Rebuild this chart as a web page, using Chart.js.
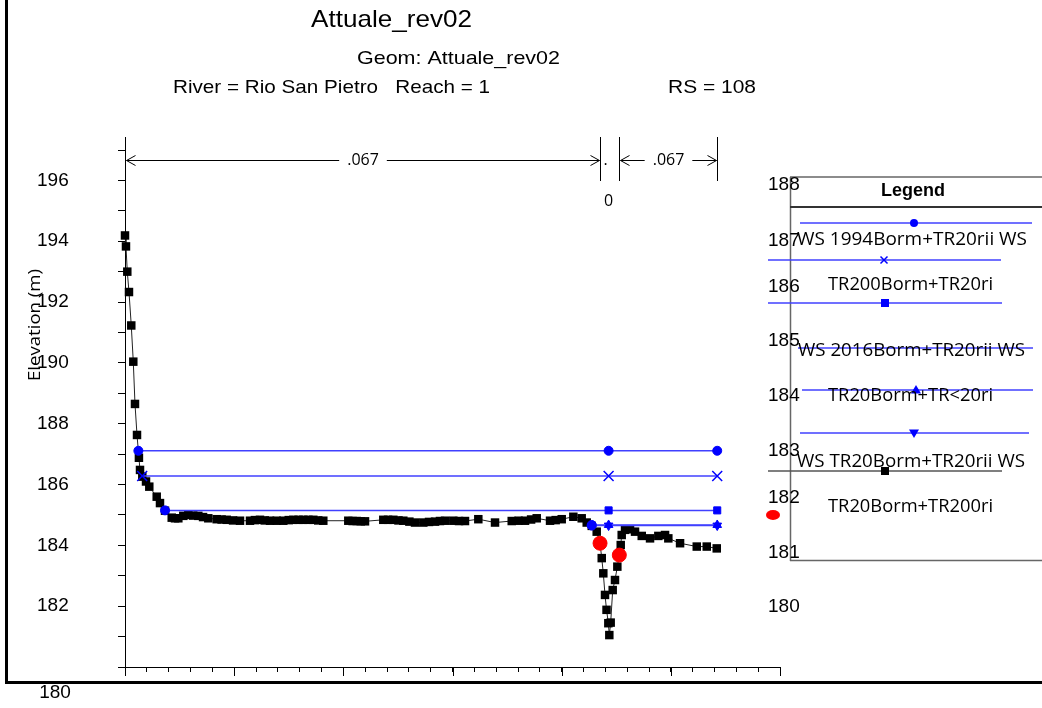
<!DOCTYPE html>
<html>
<head>
<meta charset="utf-8">
<script src="https://cdn.jsdelivr.net/npm/chart.js@4.4.1/dist/chart.umd.min.js"></script>
<style>
  html, body { margin: 0; padding: 0; background: #fff; }
</style>
</head>
<body>
<canvas id="xsChart" width="1042" height="708"></canvas>
<script>
// ground profile, station (m) / elevation (m)
const groundStation = [0.00, 0.18, 0.42, 0.73, 1.15, 1.52, 1.83, 2.20, 2.55, 2.75, 3.17, 3.85, 4.45, 5.81, 6.41, 7.33, 8.56, 9.16, 9.77, 10.68,
  11.60, 12.50, 13.43, 14.30, 15.26, 16.80, 17.70, 18.63, 19.80, 21.07, 22.90, 23.80, 24.73, 25.60, 26.57, 27.79, 29.00, 30.00, 30.84, 31.80,
  32.67, 33.60, 34.50, 35.40, 36.33, 40.91, 41.70, 42.45, 43.20, 43.97, 47.32, 48.20, 49.16, 50.10, 50.99, 52.10, 53.13, 54.65, 55.70, 56.80,
  57.70, 58.63, 60.15, 61.20, 62.29, 64.73, 67.79, 70.85, 72.10, 73.29, 74.40, 75.43, 77.87, 78.90, 80.01, 82.14, 83.67, 84.59, 85.51, 86.42,
  87.03, 87.34, 87.63, 87.94, 88.22, 88.55, 88.73, 88.98, 89.35, 89.77, 90.20, 90.56, 90.82, 91.00, 91.61, 92.52, 93.44, 94.67, 96.19, 97.71,
  98.94, 99.54, 101.69, 104.75, 106.58, 108.41];
const groundElev = [194.19, 193.83, 193.00, 192.33, 191.23, 190.04, 188.65, 187.63, 186.88, 186.48, 186.26, 186.10, 185.93, 185.60, 185.39, 185.14, 184.91, 184.89, 184.89, 184.97,
  185.00, 184.98, 184.97, 184.93, 184.89, 184.86, 184.85, 184.84, 184.82, 184.81, 184.81, 184.83, 184.84, 184.82, 184.81, 184.81, 184.81, 184.83, 184.84, 184.84,
  184.84, 184.84, 184.84, 184.82, 184.81, 184.81, 184.80, 184.80, 184.79, 184.79, 184.84, 184.84, 184.84, 184.82, 184.81, 184.78, 184.75, 184.75, 184.77, 184.78,
  184.80, 184.81, 184.81, 184.80, 184.80, 184.86, 184.75, 184.80, 184.81, 184.81, 184.85, 184.89, 184.81, 184.83, 184.86, 184.94, 184.89, 184.75, 184.64, 184.45,
  184.07, 183.58, 183.08, 182.37, 181.88, 181.44, 181.05, 181.46, 182.53, 182.86, 183.30, 183.68, 184.01, 184.34, 184.51, 184.53, 184.45, 184.31, 184.23, 184.31,
  184.34, 184.23, 184.07, 183.96, 183.96, 183.90];

// water surfaces
const wsNames = ['WS 1994Borm+TR20rii', 'WS TR200Borm+TR20ri', 'WS 2016Borm+TR20rii', 'WS TR20Borm+TR<20ri', 'WS TR20Borm+TR20rii'];
const wsElev = [187.11, 186.28, 185.15, 184.67, 184.65];
const wsStart = [2.45, 3.15, 7.33, 85.51, 85.51];
const wsMarks = [88.60, 108.50];

// bank stations
const bankStation = [87.03, 90.56];
const bankElev = [184.07, 183.68];

// manning's n
const nBreaks = [0, 87.03, 90.56, 108.41];
const nLabels = ['.067', '.', '.067'];

const legendLines = ['WS 1994Borm+TR20rii WS', 'TR200Borm+TR20ri', 'WS 2016Borm+TR20rii WS', 'TR20Borm+TR<20ri', 'WS TR20Borm+TR20rii WS', 'TR20Borm+TR200ri'];
const sideLabels = ['188', '187', '186', '185', '184', '183', '182', '181', '180'];

const BLUE = '#0000ff';
const WSLINE = '#4040ff';

function txt(ctx, s, x, y, o) {
  ctx.save();
  ctx.font = (o.weight || '') + ' ' + o.size + 'px ' + o.family;
  ctx.textBaseline = 'middle';
  ctx.fillStyle = o.color || '#000';
  let sx = 1;
  if (o.width) sx = o.width / ctx.measureText(s).width;
  ctx.translate(x, y);
  if (o.rot) ctx.rotate(o.rot);
  ctx.scale(sx, 1);
  ctx.textAlign = o.align || 'left';
  ctx.fillText(s, 0, 0);
  ctx.restore();
}

function seg(ctx, x1, y1, x2, y2) {
  ctx.beginPath();
  ctx.moveTo(x1, y1);
  ctx.lineTo(x2, y2);
  ctx.stroke();
}

function marker(ctx, style, x, y, r, color) {
  ctx.save();
  ctx.fillStyle = color;
  ctx.strokeStyle = color;
  ctx.lineWidth = 1.5;
  ctx.beginPath();
  if (style === 'circle') {
    ctx.arc(x, y, r, 0, Math.PI * 2);
    ctx.fill();
  } else if (style === 'rect') {
    ctx.fillRect(x - r, y - r, 2 * r, 2 * r);
  } else if (style === 'cross') {
    ctx.moveTo(x - r, y - r); ctx.lineTo(x + r, y + r);
    ctx.moveTo(x + r, y - r); ctx.lineTo(x - r, y + r);
    ctx.stroke();
  } else if (style === 'triUp') {
    ctx.moveTo(x, y - r); ctx.lineTo(x + r, y + r * 0.7); ctx.lineTo(x - r, y + r * 0.7);
    ctx.closePath(); ctx.fill();
  } else if (style === 'triDown') {
    ctx.moveTo(x, y + r); ctx.lineTo(x + r, y - r * 0.7); ctx.lineTo(x - r, y - r * 0.7);
    ctx.closePath(); ctx.fill();
  }
  ctx.restore();
}

// text, frame, n-values, legend etc
const decor = {
  id: 'decor',
  afterDraw(chart) {
    const ctx = chart.ctx;
    const xs = chart.scales.x;
    const a = chart.chartArea;
    ctx.save();
    ctx.strokeStyle = '#000';
    ctx.lineWidth = 1;

    // long ticks on x axis
    for (let v = 0; v <= 120; v += 20) {
      const px = Math.round(xs.getPixelForValue(v)) + 0.5;
      seg(ctx, px, a.bottom, px, a.bottom + 9);
    }
    // axis stub above plot and left of x axis
    seg(ctx, a.left + 0.5, a.top, a.left + 0.5, 137);
    seg(ctx, a.left - 7, a.bottom + 0.5, a.left, a.bottom + 0.5);

    // outer frame
    ctx.lineWidth = 3;
    seg(ctx, 6.5, 0, 6.5, 684);
    seg(ctx, 5, 682.5, 1042, 682.5);

    // titles
    txt(ctx, 'Attuale_rev02', 311, 20, { size: 24, family: '"Liberation Sans"', width: 161 });
    txt(ctx, 'Geom: Attuale_rev02', 357, 59, { size: 19, family: '"Liberation Sans"', width: 203 });
    txt(ctx, 'River = Rio San Pietro   Reach = 1', 173, 88, { size: 19, family: '"Liberation Sans"', width: 317 });
    txt(ctx, 'RS = 108', 668, 88, { size: 19, family: '"Liberation Sans"', width: 88 });

    txt(ctx, 'Elevation (m)', 35, 325, { size: 16, family: '"Open Sans"', align: 'center', rot: -Math.PI / 2, width: 112 });
    txt(ctx, '180', 55, 693, { size: 19, family: '"Liberation Sans"', align: 'center' });

    // manning's n bars
    ctx.lineWidth = 1;
    const bx = nBreaks.map(v => Math.round(xs.getPixelForValue(v)) + 0.5);
    for (let i = 1; i < bx.length; i++) seg(ctx, bx[i], 137, bx[i], 181);
    const ay = 160.5;
    [0, 2].forEach(i => {
      const l = bx[i] + 1, r = bx[i + 1] - 1, mid = (l + r) / 2;
      ctx.font = '16px "Open Sans"';
      const hw = ctx.measureText(nLabels[i]).width / 2 + 8;
      seg(ctx, l, ay, mid - hw, ay);
      seg(ctx, mid + hw, ay, r, ay);
      seg(ctx, l, ay, l + 9, ay - 5); seg(ctx, l, ay, l + 9, ay + 5);
      seg(ctx, r, ay, r - 9, ay - 5); seg(ctx, r, ay, r - 9, ay + 5);
      txt(ctx, nLabels[i], mid, ay, { size: 16, family: '"Open Sans"', align: 'center' });
    });
    txt(ctx, nLabels[1], bx[1] + 5, ay, { size: 16, family: '"Open Sans"', align: 'center' });
    txt(ctx, '0', bx[1] + 8, 201, { size: 16, family: '"Open Sans"', align: 'center' });

    // legend box
    ctx.strokeStyle = '#666';
    ctx.lineWidth = 1.5;
    seg(ctx, 790, 177, 1042, 177);
    seg(ctx, 790.5, 177, 790.5, 561);
    seg(ctx, 790, 560.5, 1042, 560.5);
    ctx.strokeStyle = '#333';
    ctx.lineWidth = 2;
    seg(ctx, 790, 207, 1042, 207);
    txt(ctx, 'Legend', 913, 191, { size: 18, family: '"Liberation Sans"', weight: 'bold', align: 'center' });

    // loose axis numbers inside the legend
    const sideY = [185, 241, 287, 341, 396, 451, 498, 553, 607];
    sideLabels.forEach((s, i) => txt(ctx, s, 768, sideY[i], { size: 19, family: '"Liberation Sans"' }));

    const rows = [
      { y: 223, x1: 800, x2: 1032, mx: 914, st: 'circle', r: 4 },
      { y: 260, x1: 768, x2: 1001, mx: 884, st: 'cross', r: 3.5 },
      { y: 303, x1: 768, x2: 1002, mx: 885, st: 'rect', r: 4 },
      { y: 348, x1: 798, x2: 1033, mx: null },
      { y: 390, x1: 802, x2: 1033, mx: 916, st: 'triUp', r: 5 },
      { y: 433, x1: 800, x2: 1029, mx: 914, st: 'triDown', r: 5 },
      { y: 471, x1: 768, x2: 1002, mx: 885, st: 'rect', r: 4, line: '#555', col: '#000' }
    ];
    rows.forEach(r => {
      ctx.strokeStyle = r.line || WSLINE;
      ctx.lineWidth = 1.5;
      seg(ctx, r.x1, r.y, r.x2, r.y);
      if (r.mx) marker(ctx, r.st, r.mx, r.y, r.r, r.col || BLUE);
    });

    const textPos = [[797, 240, 230], [828, 285, 165], [798, 351, 227], [828, 396, 165], [797, 462, 228], [828, 507, 165]];
    legendLines.forEach((s, i) => {
      const p = textPos[i];
      txt(ctx, s, p[0], p[1], { size: 18, family: '"Open Sans"', width: p[2] });
    });

    // bank station symbol, cut by the box edge
    ctx.fillStyle = '#ff0000';
    ctx.beginPath();
    ctx.ellipse(773, 515, 7, 5, 0, 0, Math.PI * 2);
    ctx.fill();

    ctx.restore();
  }
};

const wsStyles = [
  { first: 'circle', rest: 'circle', rot: 0, r: 4.5, bw: 1 },
  { first: 'crossRot', rest: 'crossRot', rot: 0, r: 7, bw: 1.5 },
  { first: 'circle', rest: 'rect', rot: 0, r: 5, bw: 1 },
  { first: 'circle', rest: 'triangle', rot: 0, r: 5, bw: 1 },
  { first: 'circle', rest: 'triangle', rot: 180, r: 5, bw: 1 }
];

const wsDatasets = wsNames.map((name, i) => ({
  label: name,
  data: [{ x: wsStart[i], y: wsElev[i] }].concat(wsMarks.map(x => ({ x: x, y: wsElev[i] }))),
  showLine: true,
  borderColor: WSLINE,
  borderWidth: 1.5,
  pointStyle: [wsStyles[i].first, wsStyles[i].rest, wsStyles[i].rest],
  rotation: [0, wsStyles[i].rot, wsStyles[i].rot],
  pointRadius: [i === 1 ? 7 : 4.5, wsStyles[i].r, wsStyles[i].r],
  pointBackgroundColor: BLUE,
  pointBorderColor: BLUE,
  pointBorderWidth: wsStyles[i].bw,
  order: 1
}));

const ctx = document.getElementById('xsChart').getContext('2d');

const xsChart = new Chart(ctx, {
  type: 'scatter',
  data: {
    datasets: [
      {
        label: 'Bank Sta',
        data: bankStation.map((x, i) => ({ x: x, y: bankElev[i] })),
        pointStyle: 'circle',
        pointRadius: 7,
        pointBackgroundColor: '#ff0000',
        pointBorderColor: '#ff0000',
        order: 0
      },
      ...wsDatasets,
      {
        label: 'Ground',
        data: groundStation.map((x, i) => ({ x: x, y: groundElev[i] })),
        showLine: true,
        borderColor: '#222',
        borderWidth: 1,
        pointStyle: 'rect',
        pointRadius: 6,
        pointBackgroundColor: '#000',
        pointBorderWidth: 0,
        clip: false,
        order: 2
      }
    ]
  },
  options: {
    responsive: false,
    animation: false,
    layout: { padding: { left: 37, top: 150, right: 262, bottom: 31 } },
    plugins: {
      legend: { display: false },
      tooltip: { enabled: false }
    },
    scales: {
      x: {
        type: 'linear',
        min: 0,
        max: 120,
        border: { color: '#000', width: 1 },
        grid: { drawOnChartArea: false, tickLength: 5, color: '#000' },
        ticks: { stepSize: 4, autoSkip: false, maxTicksLimit: 100, callback: () => '' },
        afterFit(s) { s.height = 10; }
      },
      y: {
        min: 180,
        max: 197,
        border: { color: '#000', width: 1 },
        grid: { drawOnChartArea: false, tickLength: 7, color: '#000' },
        ticks: {
          stepSize: 1,
          autoSkip: false,
          maxTicksLimit: 100,
          padding: 3,
          crossAlign: 'far',
          color: '#000',
          font: { family: 'Liberation Sans', size: 19 },
          callback: v => (v % 2 === 0 && v > 180 && v < 197) ? String(v) : ''
        },
        afterFit(s) { s.width = 88; }
      }
    }
  },
  plugins: [decor]
});
</script>
</body>
</html>
